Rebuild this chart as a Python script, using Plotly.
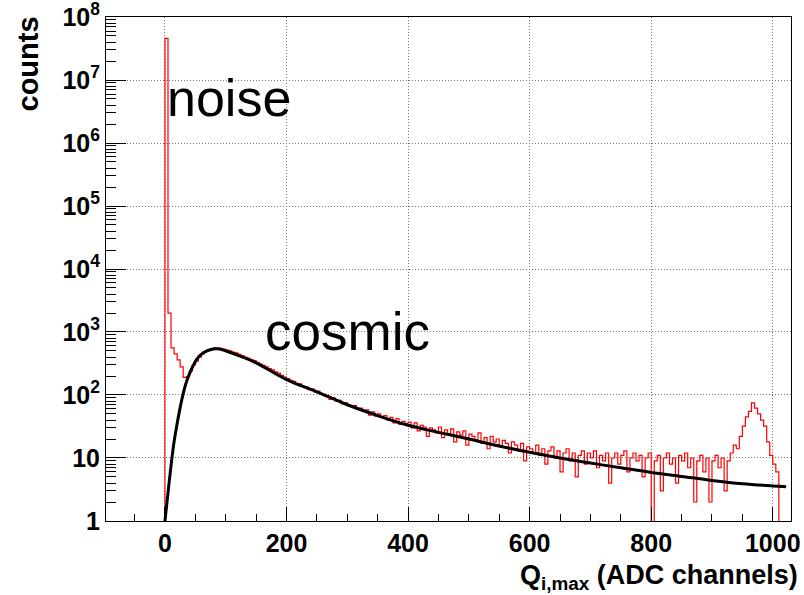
import numpy as np
import plotly.graph_objects as go

# ---------------- data ----------------
bin_start = 0
bin_width = 5
counts = [
    46000000, 2000, 560, 450, 360, 280, 190, 195, 240, 300,
    345, 400, 450, 490, 515, 540, 560, 555, 550, 535,
    515, 500, 480, 465, 440, 420, 400, 385, 365, 350,
    330, 310, 295, 280, 262, 250, 232, 222, 205, 192,
    182, 170, 165, 152, 150, 138, 135, 122, 125, 112,
    115, 105, 102, 96, 85, 90, 80, 82, 72, 76,
    70, 66, 68, 60, 62, 55, 58, 48, 54, 46,
    50, 44, 47, 40, 44, 36, 42, 34, 38, 35,
    37, 30, 36, 27, 33, 31, 22, 30, 28, 25,
    31, 21, 28, 24, 29, 18, 26, 23, 27, 16,
    24, 22, 19, 25, 17, 21, 14, 22, 18, 20,
    15, 19, 17, 12, 18, 16, 13, 17, 9, 15,
    14, 12, 16, 11, 14, 8, 13, 15, 10, 13,
    6, 12, 14, 9, 12, 5, 11, 13, 8, 12,
    10, 13, 7, 11, 9, 12, 4, 10, 12, 8,
    11, 13, 6, 10, 12, 9, 11, 5, 10, 12,
    0, 9, 11, 3, 10, 12, 8, 10, 4, 11,
    9, 12, 7, 10, 2, 9, 11, 6, 10, 2,
    9, 11, 7, 10, 3, 9, 12, 16, 14, 22,
    32, 45, 55, 75, 62, 50, 40, 32, 18, 11,
    8, 6, 0, 0, 0,
]

fit_x = [0, 5, 10, 15, 20, 25, 30, 35, 41, 52, 63, 79, 90, 100, 120, 150, 200,
         250, 300, 350, 400, 450, 500, 550, 600, 650, 700, 750, 800, 850,
         900, 950, 1000, 1022]
fit_y = [1, 2.8, 7.6, 18, 35, 63, 105, 158, 224, 363, 468, 537, 537, 500, 427, 324, 175,
         112, 70, 47, 33, 25.5, 20, 15.5, 12.3, 10, 8.3, 7, 5.9, 5.1,
         4.4, 3.9, 3.6, 3.5]

x_tick_vals = [0, 200, 400, 600, 800, 1000]
y_tick_vals = [1, 10, 1e2, 1e3, 1e4, 1e5, 1e6, 1e7, 1e8]
y_tick_text = ["1", "10", "10<sup>2</sup>", "10<sup>3</sup>", "10<sup>4</sup>",
               "10<sup>5</sup>", "10<sup>6</sup>", "10<sup>7</sup>", "10<sup>8</sup>"]
x_range = [-97, 1030]

# ---------------- build step histogram ----------------
counts_arr = np.array(counts, dtype=float)
edges = bin_start + bin_width * np.arange(len(counts_arr) + 1)
floor = 0.3  # empty bins drop below the frame, as in ROOT
draw_vals = np.where(counts_arr > 0, counts_arr, floor)
step_x = np.concatenate([[edges[0]], edges[:-1], [edges[-1]], [edges[-1]]])
step_y = np.concatenate([[floor], draw_vals, [draw_vals[-1]], [floor]])

minor_y = [m * 10 ** k for k in range(0, 8) for m in range(2, 10)]

FONT = "Liberation Sans"
GRID_DASH = "1px,2px"

fig = go.Figure()
fig.add_trace(go.Scatter(x=step_x, y=step_y, mode="lines", line_shape="hv",
                         line=dict(color="#ff0000", width=1.2), showlegend=False))
fig.add_trace(go.Scatter(x=fit_x, y=fit_y, mode="lines", line_shape="spline",
                         line=dict(color="black", width=3), showlegend=False))

L, R, T, B = 106, 13, 17, 74
W, H = 804, 595
pw, ph = W - L - R, H - T - B

def px_x(p):
    return (p - L) / pw

def px_y(p):
    return (H - B - p) / ph

fig.update_layout(
    width=W, height=H,
    margin=dict(l=L, r=R, t=T, b=B, pad=0, autoexpand=False),
    paper_bgcolor="white", plot_bgcolor="white",
    font=dict(family=FONT, color="black"),
    xaxis=dict(
        range=x_range, tickmode="array", tickvals=x_tick_vals,
        ticks="inside", ticklen=14, tickwidth=1, tickcolor="black",
        showline=True, linecolor="black", linewidth=1, mirror=True,
        showgrid=True, gridcolor="#777777", griddash=GRID_DASH, gridwidth=1,
        zeroline=False, ticklabeloverflow="allow", automargin=False,
        tickfont=dict(family=FONT, size=25, weight="bold"),
        minor=dict(dtick=50, tick0=0, ticks="inside", ticklen=7,
                   tickcolor="black", showgrid=False),
    ),
    yaxis=dict(
        type="log", range=[-0.0005, 8.0005], tickmode="array",
        tickvals=y_tick_vals, ticktext=y_tick_text,
        ticks="inside", ticklen=20, tickwidth=1, tickcolor="black",
        showline=True, linecolor="black", linewidth=1, mirror=True,
        showgrid=True, gridcolor="#777777", griddash=GRID_DASH, gridwidth=1,
        zeroline=False, ticklabeloverflow="allow", automargin=False,
        tickfont=dict(family=FONT, size=25, weight="bold"),
        minor=dict(tickmode="array", tickvals=minor_y, ticks="inside",
                   ticklen=10, tickcolor="black", showgrid=False),
    ),
    annotations=[
        dict(text="noise", xref="paper", yref="paper", x=px_x(165), y=px_y(98),
             xanchor="left", yanchor="middle", showarrow=False,
             font=dict(family=FONT, size=52, color="black")),
        dict(text="cosmic", xref="paper", yref="paper", x=px_x(263), y=px_y(331),
             xanchor="left", yanchor="middle", showarrow=False,
             font=dict(family=FONT, size=53, color="black")),
        dict(text="Q<sub>i,max</sub> (ADC channels)", xref="paper", yref="paper",
             x=px_x(800), y=px_y(558), xanchor="right", yanchor="top",
             showarrow=False,
             font=dict(family=FONT, size=27, color="black", weight="bold")),
        dict(text="counts", xref="paper", yref="paper", x=px_x(9), y=px_y(15),
             xanchor="left", yanchor="top", textangle=-90, showarrow=False,
             font=dict(family=FONT, size=29, color="black", weight="bold")),
    ],
)

fig.write_html("out.html")
